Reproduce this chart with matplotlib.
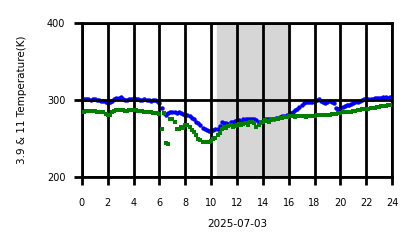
import numpy as np
import matplotlib
matplotlib.use('Agg')
import matplotlib.pyplot as plt

# 10-minute samples over the day (hours)
hours = np.arange(144) / 6.0

# 3.9 um brightness temperature (K)
temp_39 = [
    301, 301, 301, 301, 300, 301,
    301, 300, 300, 299, 299, 298,
    296, 297, 299, 301, 303, 303,
    304, 302, 300, 300, 301, 302,
    303, 302, 301, 300, 300, 301,
    300, 300, 299, 300, 300, 299,
    296, 290, 283, 281, 283, 284,
    284, 284, 283, 284, 283, 282,
    281, 280, 279, 277, 275, 272,
    270, 267, 264, 262, 261, 260,
    260, 261, 263, 262, 266, 271,
    270, 270, 269, 271, 272, 273,
    274, 274, 272, 275, 276, 275,
    276, 276, 275, 274, 272, 271,
    273, 275, 276, 276, 275, 276,
    277, 277, 278, 279, 279, 280,
    281, 283, 285, 287, 289, 291,
    293, 296, 297, 297, 297, 298,
    299, 300, 301, 299, 297, 296,
    298, 299, 297, 296, 290, 289,
    290, 291, 292, 293, 294, 295,
    296, 297, 298, 299, 300, 301,
    301, 302, 302, 302, 303, 303,
    303, 303, 304, 304, 303, 304,
]

# 11 um brightness temperature (K)
temp_11 = [
    285, 285, 286, 286, 286, 286,
    286, 285, 285, 285, 284, 282,
    280, 281, 284, 286, 287, 287,
    287, 287, 286, 286, 287, 287,
    287, 287, 286, 286, 286, 285,
    285, 284, 284, 283, 283, 283,
    282, 263, 283, 244, 243, 276,
    276, 272, 262, 263, 265, 264,
    268, 267, 265, 261, 258, 255,
    250, 248, 246, 246, 245, 246,
    247, 250, 251, 255, 257, 262,
    265, 264, 266, 268, 265, 266,
    268, 269, 267, 269, 270, 268,
    271, 272, 270, 265, 268, 271,
    272, 274, 273, 272, 274, 275,
    275, 276, 277, 277, 278, 278,
    279, 279, 279, 278, 279, 279,
    279, 279, 278, 279, 279, 279,
    279, 280, 280, 280, 280, 281,
    281, 281, 282, 282, 282, 283,
    283, 284, 284, 284, 285, 285,
    286, 286, 287, 287, 288, 288,
    289, 289, 290, 290, 290, 291,
    291, 292, 292, 292, 293, 293,
]

# shaded period (hours)
shade_start, shade_end = 10.45, 16.1

fig = plt.figure(figsize=(4.18, 2.48), dpi=100)
ax = fig.add_axes([0.196, 0.286, 0.742, 0.621])

ax.axvspan(shade_start, shade_end, color='#d6d6d6', zorder=0)
ax.plot(hours, temp_39, 'o', color='blue', markersize=3.2, markeredgewidth=0, zorder=2)
ax.plot(hours, temp_11, 's', color='green', markersize=2.8, markeredgewidth=0, zorder=3)

ax.set_xlim(0, 24)
ax.set_ylim(200, 400)
ax.set_xticks(range(0, 25, 2))
ax.set_yticks([200, 300, 400])
ax.grid(True, color='black', linewidth=2)
ax.set_axisbelow(False)
for sp in ax.spines.values():
    sp.set_linewidth(2)
ax.tick_params(labelsize=7, width=2, length=6)
ax.tick_params(axis='x', pad=9)
ax.tick_params(axis='y', pad=6)
ax.set_xlabel('2025-07-03', fontsize=7.5, labelpad=8)
ax.set_ylabel('3.9 & 11 Temperature(K)', fontsize=7.5, labelpad=14)

fig.savefig('out.png', dpi=100)
